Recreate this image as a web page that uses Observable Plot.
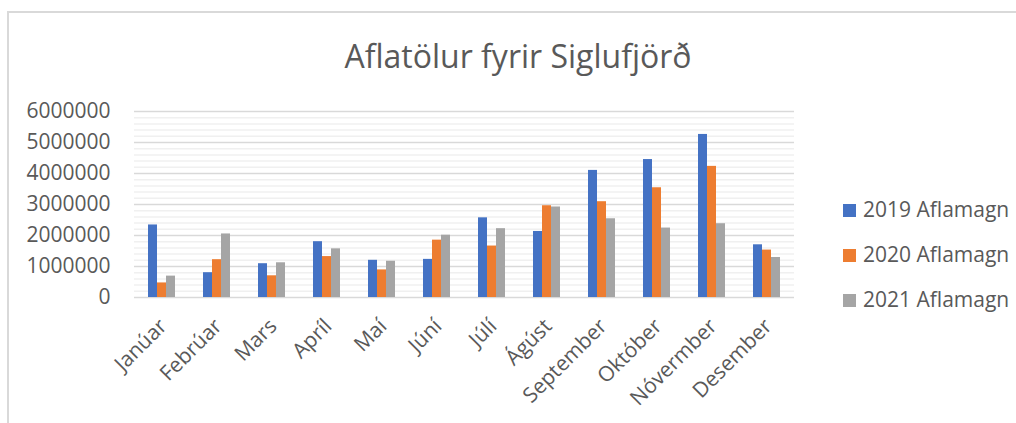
<!DOCTYPE html>
<html><head><meta charset="utf-8">
<script src="https://cdn.jsdelivr.net/npm/d3@7"></script>
<script src="https://cdn.jsdelivr.net/npm/@observablehq/plot@0.6"></script>
<style>
html,body{margin:0;padding:0;background:#fff;overflow:hidden;width:1016px;height:423px;}
#wrap{position:relative;width:1016px;height:423px;font-family:"Open Sans",sans-serif;overflow:hidden;}
#frame{position:absolute;left:7px;top:11px;width:1100px;height:500px;border:2px solid #d9d9d9;box-sizing:border-box;}
#title{position:absolute;left:0;width:1036px;text-align:center;top:40px;font-size:32px;line-height:32px;color:#595959;white-space:nowrap;}
.leg{position:absolute;left:843px;height:21px;font-size:21px;line-height:21px;color:#595959;white-space:nowrap;}
.leg .sw{position:absolute;left:0;top:5px;width:13px;height:13px;}
.leg .lt{position:absolute;left:20px;top:0;}
#chart{position:absolute;left:0;top:0;}
</style></head>
<body>
<div id="wrap">
  <div id="frame"></div>
  <div id="chart"></div>
  <div id="title">Aflatölur fyrir Siglufjörð</div>
  <div id="legend"></div>
</div>
<script>
const months = ["Janúar","Febrúar","Mars","Apríl","Maí","Júní","Júlí","Ágúst","September","Október","Nóvermber","Desember"];
const series = ["2019 Aflamagn","2020 Aflamagn","2021 Aflamagn"];
const colors = ["#4472C4","#ED7D31","#A5A5A5"];
const values2019 = [2340000, 800000, 1090000, 1800000, 1200000, 1230000, 2570000, 2130000, 4100000, 4450000, 5260000, 1700000];
const values2020 = [470000, 1220000, 700000, 1320000, 890000, 1850000, 1660000, 2960000, 3090000, 3540000, 4230000, 1530000];
const values2021 = [690000, 2050000, 1120000, 1570000, 1170000, 2010000, 2220000, 2920000, 2540000, 2240000, 2380000, 1290000];
const yTicks = [0, 1000000, 2000000, 3000000, 4000000, 5000000, 6000000];
const minorStep = 200000;

const seriesValues = [values2019, values2020, values2021];
const data = [];
series.forEach((s, i) => months.forEach((m, j) => data.push({month: m, series: s, value: seriesValues[i][j]})));
const yMax = yTicks[yTicks.length - 1];
const minorTicks = d3.range(0, yMax + 1, minorStep).filter(v => !yTicks.includes(v));

const chart = Plot.plot({
  width: 1016, height: 423,
  marginTop: 111, marginBottom: 126, marginLeft: 133, marginRight: 221,
  style: {fontFamily: "Open Sans", fontSize: "21px", color: "#595959", background: "transparent"},
  fx: {domain: months, padding: 0, axis: null},
  x: {domain: series, paddingInner: 0, paddingOuter: 1.46, axis: null},
  y: {domain: [0, yMax], axis: null},
  color: {domain: series, range: colors},
  marks: [
    Plot.ruleY(minorTicks, {stroke: "#f0f0f0", strokeWidth: 1.5}),
    Plot.ruleY(yTicks, {stroke: "#d9d9d9", strokeWidth: 1.5}),
    Plot.barY(data, {fx: "month", x: "series", y: "value", fill: "series"}),
    Plot.axisY(yTicks, {tickSize: 0, tickPadding: 24, tickFormat: d => String(d), label: null, fontSize: 21, fill: "#595959"}),
    Plot.text(months, {fx: d => d, text: d => d, frameAnchor: "bottom", rotate: -45, textAnchor: "end", lineAnchor: "bottom", dy: 30, dx: 6, fontSize: 21, fill: "#595959"})
  ]
});
document.getElementById("chart").appendChild(chart);

const legend = document.getElementById("legend");
const baselines = [217.7, 262.7, 307.7];
series.forEach((s, i) => {
  const row = document.createElement("div");
  row.className = "leg";
  row.style.top = (baselines[i] - 18.6) + "px";
  row.innerHTML = `<div class="sw" style="background:${colors[i]}"></div><div class="lt">${s}</div>`;
  legend.appendChild(row);
});
</script>
</body></html>
